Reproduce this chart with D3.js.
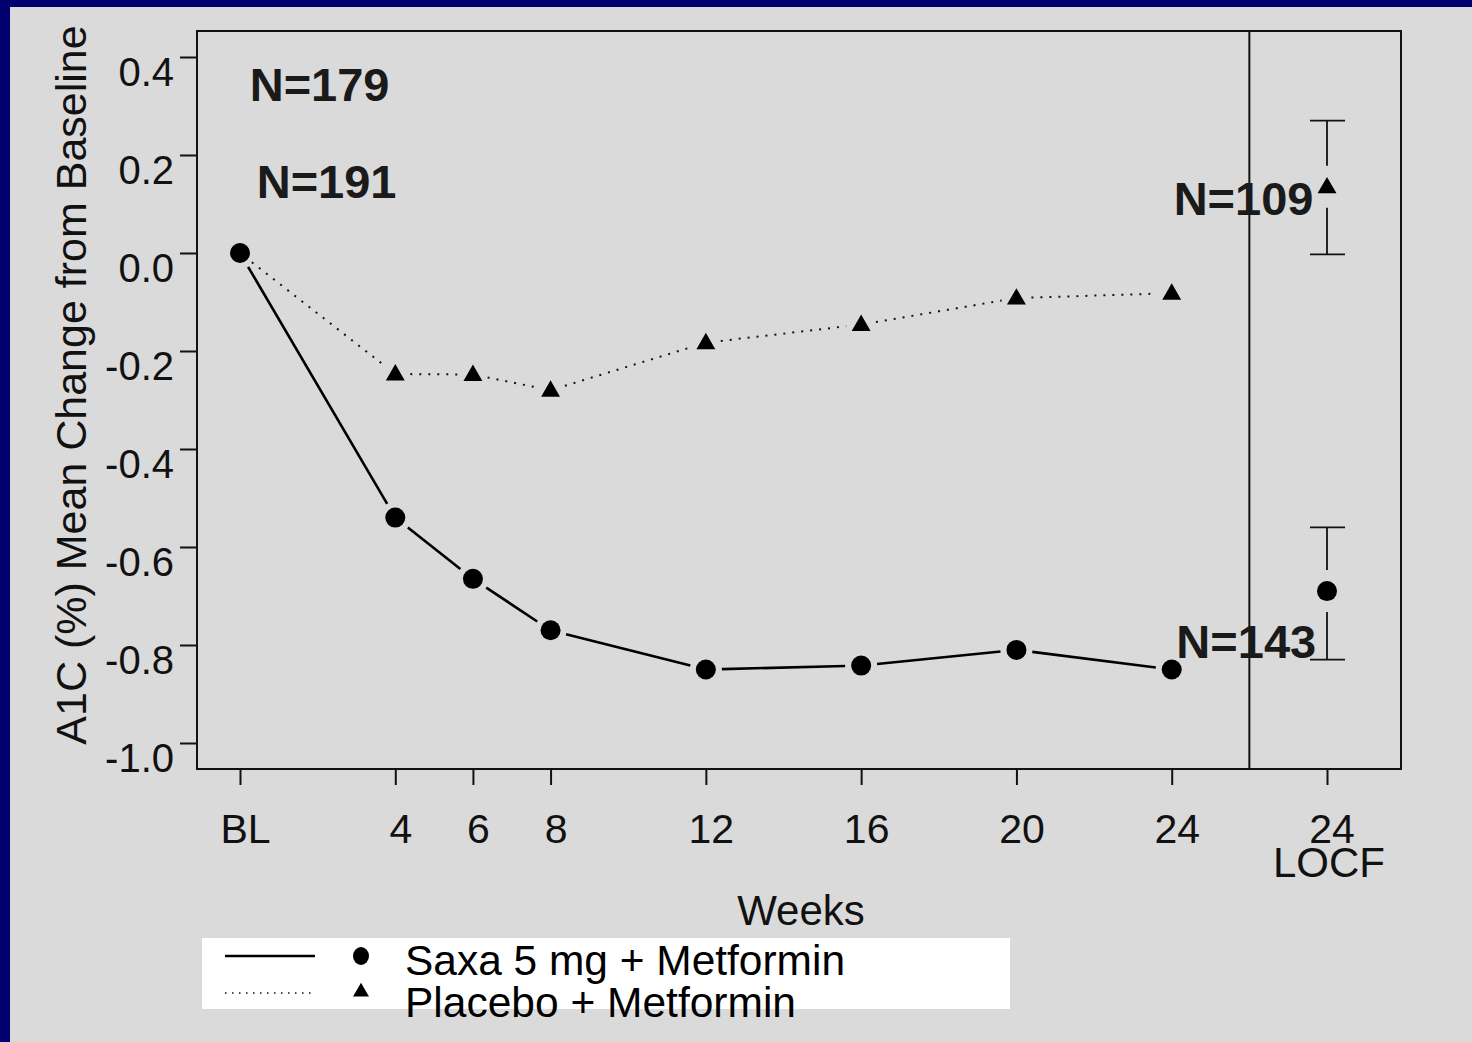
<!DOCTYPE html>
<html>
<head>
<meta charset="utf-8">
<script src="https://cdn.jsdelivr.net/npm/d3@7"></script>
<style>
  html, body { margin: 0; padding: 0; background: #00006e; }
  svg { display: block; font-family: "Liberation Sans", Arial, sans-serif; }
</style>
</head>
<body>
<script>
// visit weeks, LOCF plotted at 28 on the same scale
var weeks = [0, 4, 6, 8, 12, 16, 20, 24]
var weekLabels = ['BL', '4', '6', '8', '12', '16', '20', '24']
var saxa = [0, -0.54, -0.665, -0.77, -0.85, -0.842, -0.81, -0.85]
var placebo = [0, -0.247, -0.248, -0.28, -0.183, -0.146, -0.092, -0.082]
var locf = [
  {name: 'saxa', mean: -0.69, lo: -0.83, hi: -0.56},
  {name: 'placebo', mean: 0.135, lo: -0.003, hi: 0.27}
]
var yTicks = [0.4, 0.2, 0.0, -0.2, -0.4, -0.6, -0.8, -1.0]
var nLabels = [
  {text: 'N=179', week: 0.25, val: 0.31},
  {text: 'N=191', week: 0.43, val: 0.112},
  {text: 'N=109', week: 24.05, val: 0.078},
  {text: 'N=143', week: 24.12, val: -0.827}
]
var legendItems = ['Saxa 5 mg + Metformin', 'Placebo + Metformin']

var W = 1472, H = 1042
var svg = d3.select('body').append('svg').attr('width', W).attr('height', H)

svg.append('rect').attr('x', 10).attr('y', 7).attr('width', W - 10).attr('height', H - 7)
  .attr('fill', '#dadada')

var frame = {left: 197, right: 1401, top: 31, bottom: 769}
var x = d3.scaleLinear().domain([0, 28]).range([240, 1327])
var y = d3.scaleLinear().domain([0, -1]).range([253, 743])

var g = svg.append('g')

g.append('rect')
  .attr('x', frame.left).attr('y', frame.top)
  .attr('width', frame.right - frame.left).attr('height', frame.bottom - frame.top)
  .attr('fill', 'none').attr('stroke', '#111').attr('stroke-width', 2)

g.append('line')
  .attr('x1', x(26)).attr('x2', x(26))
  .attr('y1', frame.top).attr('y2', frame.bottom)
  .attr('stroke', '#111').attr('stroke-width', 2)

// y axis, labels hang just below their ticks
var yAxis = g.append('g').attr('transform', 'translate(' + frame.left + ',0)')
  .call(d3.axisLeft(y).tickValues(yTicks).tickSize(17).tickPadding(6)
    .tickFormat(d3.format('.1f')))
yAxis.select('.domain').remove()
yAxis.selectAll('line').attr('stroke', '#111').attr('stroke-width', 2)
yAxis.selectAll('text').attr('font-size', 40).attr('fill', '#111').attr('dy', '0.7em')
  .text(d => d3.format('.1f')(d).replace('−', '-'))

// x axis
var xAxis = g.append('g').attr('transform', 'translate(0,' + frame.bottom + ')')
  .call(d3.axisBottom(x).tickValues(weeks.concat([28])).tickSize(16).tickPadding(29)
    .tickFormat((d, i) => i < weekLabels.length ? weekLabels[i] : ''))
xAxis.select('.domain').remove()
xAxis.selectAll('line').attr('stroke', '#111').attr('stroke-width', 2)
xAxis.selectAll('text').attr('font-size', 41).attr('fill', '#111')
  .attr('dx', 5)

// two-line label for the LOCF tick
var locfLabel = g.append('text')
  .attr('text-anchor', 'middle').attr('fill', '#111')
locfLabel.append('tspan').text('24')
  .attr('x', x(28) + 5).attr('y', 843).attr('font-size', 41)
locfLabel.append('tspan').text('LOCF')
  .attr('x', x(28) + 2).attr('y', 877).attr('font-size', 42)

g.append('text').text('Weeks')
  .attr('x', 801).attr('y', 925).attr('text-anchor', 'middle')
  .attr('font-size', 42).attr('fill', '#111')

g.append('text').text('A1C (%) Mean Change from Baseline')
  .attr('transform', 'translate(86,385) rotate(-90)')
  .attr('text-anchor', 'middle').attr('font-size', 43).attr('fill', '#111')

// line segments with small gaps at the markers
function segments(vals, gap) {
  var pts = weeks.map((w, i) => [x(w), y(vals[i])])
  return d3.pairs(pts).map(([a, b]) => {
    var dx = b[0] - a[0], dy = b[1] - a[1], len = Math.hypot(dx, dy)
    var ux = dx / len, uy = dy / len
    return [[a[0] + ux * gap, a[1] + uy * gap], [b[0] - ux * gap, b[1] - uy * gap]]
  })
}

g.append('g').selectAll('line').data(segments(placebo, 15)).join('line')
  .attr('x1', d => d[0][0]).attr('y1', d => d[0][1])
  .attr('x2', d => d[1][0]).attr('y2', d => d[1][1])
  .attr('stroke', '#111').attr('stroke-width', 2).attr('stroke-dasharray', '2,7')

g.append('g').selectAll('line').data(segments(saxa, 16)).join('line')
  .attr('x1', d => d[0][0]).attr('y1', d => d[0][1])
  .attr('x2', d => d[1][0]).attr('y2', d => d[1][1])
  .attr('stroke', '#000').attr('stroke-width', 2.6)

var tri = d3.symbol().type(d3.symbolTriangle).size(155)

g.append('g').selectAll('path').data(weeks.slice(1)).join('path')
  .attr('d', tri)
  .attr('transform', (d, i) => 'translate(' + x(d) + ',' + (y(placebo[i + 1]) + 1) + ')')
  .attr('fill', '#000')

g.append('g').selectAll('circle').data(weeks).join('circle')
  .attr('cx', d => x(d)).attr('cy', (d, i) => y(saxa[i]))
  .attr('r', 10).attr('fill', '#000')

// LOCF error bars
var eb = g.append('g').selectAll('g').data(locf).join('g')
eb.append('line')
  .attr('x1', x(28)).attr('x2', x(28))
  .attr('y1', d => y(d.hi)).attr('y2', d => y(d.mean) - 21)
eb.append('line')
  .attr('x1', x(28)).attr('x2', x(28))
  .attr('y1', d => y(d.mean) + 21).attr('y2', d => y(d.lo))
eb.append('line')
  .attr('x1', x(28) - 17).attr('x2', x(28) + 18)
  .attr('y1', d => y(d.hi)).attr('y2', d => y(d.hi))
eb.append('line')
  .attr('x1', x(28) - 17).attr('x2', x(28) + 18)
  .attr('y1', d => y(d.lo)).attr('y2', d => y(d.lo))
eb.selectAll('line').attr('stroke', '#111').attr('stroke-width', 1.8)

eb.filter(d => d.name == 'saxa').append('circle')
  .attr('cx', x(28)).attr('cy', d => y(d.mean)).attr('r', 10).attr('fill', '#000')
eb.filter(d => d.name == 'placebo').append('path')
  .attr('d', tri)
  .attr('transform', d => 'translate(' + x(28) + ',' + (y(d.mean) + 1) + ')')
  .attr('fill', '#000')

g.append('g').selectAll('text').data(nLabels).join('text')
  .text(d => d.text)
  .attr('x', d => x(d.week)).attr('y', d => y(d.val))
  .attr('font-size', 47).attr('font-weight', 'bold').attr('fill', '#1a1a1a')

// legend
var leg = svg.append('g')
leg.append('rect').attr('x', 202).attr('y', 938).attr('width', 808).attr('height', 71)
  .attr('fill', '#fff')
leg.append('line').attr('x1', 225).attr('x2', 315).attr('y1', 956).attr('y2', 956)
  .attr('stroke', '#000').attr('stroke-width', 2.5)
leg.append('line').attr('x1', 225).attr('x2', 315).attr('y1', 993).attr('y2', 993)
  .attr('stroke', '#111').attr('stroke-width', 1.5).attr('stroke-dasharray', '1.5,5.5')
leg.append('ellipse').attr('cx', 361).attr('cy', 956).attr('rx', 8).attr('ry', 9)
  .attr('fill', '#000')
leg.append('path').attr('d', d3.symbol().type(d3.symbolTriangle).size(110))
  .attr('transform', 'translate(361,992)').attr('fill', '#000')
leg.append('text').attr('font-size', 43).attr('fill', '#000')
  .selectAll('tspan').data(legendItems).join('tspan')
  .text(d => d)
  .attr('x', 405).attr('y', (d, i) => 975 + i * 42)
  .attr('textLength', (d, i) => i == 0 ? 440 : 391)
  .attr('lengthAdjust', 'spacingAndGlyphs')
</script>
</body>
</html>
